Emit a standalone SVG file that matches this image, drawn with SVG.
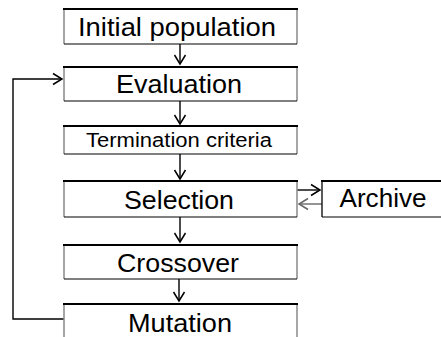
<svg xmlns="http://www.w3.org/2000/svg" width="441" height="337" viewBox="0 0 441 337">
<style>
.box{fill:#fff;stroke:none}
.top{stroke:#000;stroke-width:2}
.bot{stroke:#000;stroke-width:1}
.side{stroke:#888;stroke-width:1.5}
.t{font-family:"Liberation Sans",Arial,sans-serif;font-size:26px;fill:#000;text-anchor:middle}
.s{font-size:20px}
.c{fill:none;stroke:#000;stroke-width:1.4}
marker{overflow:visible}
</style>
<defs>
<marker id="a" markerUnits="userSpaceOnUse" viewBox="-12 -8 14 16" refX="0" refY="0" markerWidth="14" markerHeight="16" orient="auto">
<path d="M-9,-5.5 L0,0 L-9,5.5" fill="none" stroke="#000" stroke-width="1.5"/>
</marker>
<marker id="ahg" markerUnits="userSpaceOnUse" viewBox="-12 -8 14 16" refX="0" refY="0" markerWidth="14" markerHeight="16" orient="auto">
<path d="M-9,-5.5 L0,0 L-9,5.5" fill="none" stroke="#666" stroke-width="1.5"/>
</marker>
</defs>
<g id="connectors">
<line class="c" x1="180" y1="44" x2="180" y2="64" marker-end="url(#a)"/>
<line class="c" x1="180" y1="101" x2="180" y2="124" marker-end="url(#a)"/>
<line class="c" x1="180" y1="154" x2="180" y2="179" marker-end="url(#a)"/>
<line class="c" x1="180" y1="217" x2="180" y2="242" marker-end="url(#a)"/>
<line class="c" x1="179" y1="279" x2="179" y2="301" marker-end="url(#a)"/>
<polyline class="c" points="64,319 13,319 13,79 62,79" marker-end="url(#a)"/>
<line class="c" x1="297" y1="190" x2="320" y2="190" marker-end="url(#a)"/>
<line fill="none" stroke="#666" stroke-width="1.4" x1="322" y1="204" x2="299" y2="204" marker-end="url(#ahg)"/>
</g>
<g id="initial">
<rect class="box" x="64" y="8" width="233" height="36"/>
<line class="side" x1="64" y1="8" x2="64" y2="44"/><line class="side" x1="297" y1="8" x2="297" y2="44"/>
<line class="top" x1="63" y1="9" x2="298" y2="9"/><line class="bot" x1="64" y1="44" x2="297" y2="44"/>
<text class="t" x="177" y="36" textLength="198" lengthAdjust="spacingAndGlyphs">Initial population</text>
</g>
<g id="evaluation">
<rect class="box" x="64" y="66" width="233" height="35"/>
<line class="side" x1="64" y1="66" x2="64" y2="101"/><line class="side" x1="297" y1="66" x2="297" y2="101"/>
<line class="top" x1="63" y1="67" x2="298" y2="67"/><line class="bot" x1="64" y1="101" x2="297" y2="101"/>
<text class="t" x="179" y="93" textLength="126" lengthAdjust="spacingAndGlyphs">Evaluation</text>
</g>
<g id="termination">
<rect class="box" x="64" y="125" width="233" height="29"/>
<line class="side" x1="64" y1="125" x2="64" y2="154"/><line class="side" x1="297" y1="125" x2="297" y2="154"/>
<line class="top" x1="63" y1="126" x2="298" y2="126"/><line class="bot" x1="64" y1="154" x2="297" y2="154"/>
<text class="t s" x="179" y="147" textLength="186" lengthAdjust="spacingAndGlyphs">Termination criteria</text>
</g>
<g id="selection">
<rect class="box" x="64" y="180" width="233" height="37"/>
<line class="side" x1="64" y1="180" x2="64" y2="217"/><line class="side" x1="297" y1="180" x2="297" y2="217"/>
<line class="top" x1="63" y1="181" x2="298" y2="181"/><line class="bot" x1="64" y1="217" x2="297" y2="217"/>
<text class="t" x="179" y="209" textLength="110" lengthAdjust="spacingAndGlyphs">Selection</text>
</g>
<g id="archive">
<rect class="box" x="322" y="180" width="125" height="37"/>
<line stroke="#000" stroke-width="1.3" x1="322" y1="180" x2="322" y2="217"/>
<line class="top" x1="321" y1="181" x2="441" y2="181"/><line class="bot" x1="322" y1="217" x2="441" y2="217"/>
<text class="t" x="383" y="207" textLength="87" lengthAdjust="spacingAndGlyphs">Archive</text>
</g>
<g id="crossover">
<rect class="box" x="64" y="244" width="233" height="35"/>
<line class="side" x1="64" y1="244" x2="64" y2="279"/><line class="side" x1="297" y1="244" x2="297" y2="279"/>
<line class="top" x1="63" y1="245" x2="298" y2="245"/><line class="bot" x1="64" y1="279" x2="297" y2="279"/>
<text class="t" x="178" y="272" textLength="122" lengthAdjust="spacingAndGlyphs">Crossover</text>
</g>
<g id="mutation">
<rect class="box" x="64" y="303" width="233" height="40"/>
<line class="side" x1="64" y1="303" x2="64" y2="340"/><line class="side" x1="297" y1="303" x2="297" y2="340"/>
<line class="top" x1="63" y1="304" x2="298" y2="304"/>
<text class="t" x="180" y="332" textLength="104" lengthAdjust="spacingAndGlyphs">Mutation</text>
</g>
</svg>
